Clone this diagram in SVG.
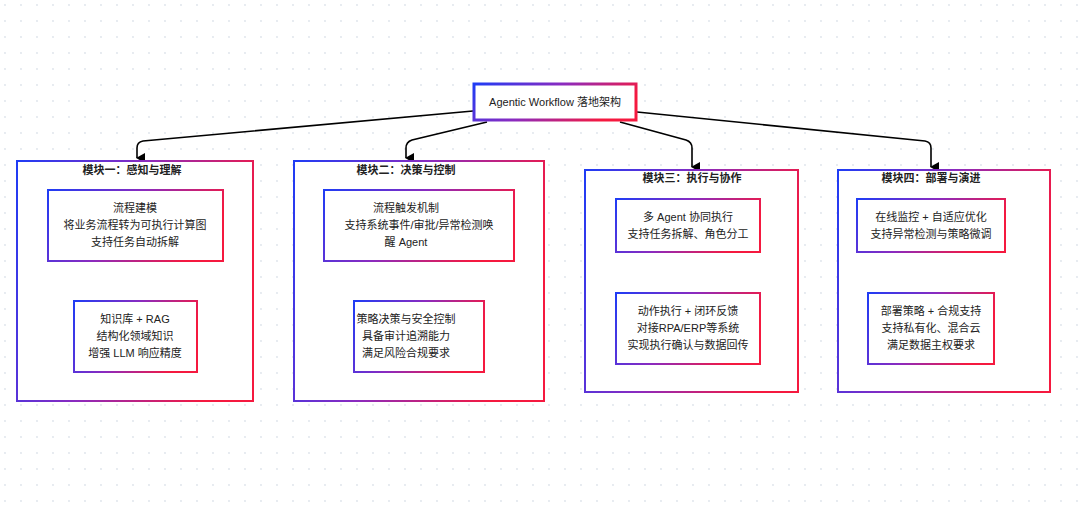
<svg xmlns="http://www.w3.org/2000/svg" width="1080" height="505" viewBox="0 0 1080 505">
<defs>
<pattern id="grid" width="16" height="16" patternUnits="userSpaceOnUse" x="4" y="4">
<circle cx="1" cy="1" r="0.9" fill="#dde3ea"/>
</pattern>
<linearGradient id="g" x1="0" y1="0" x2="1" y2="0.3">
<stop offset="0" stop-color="#1f3cf5"/><stop offset="0.5" stop-color="#8a2bc0"/><stop offset="1" stop-color="#f5193f"/>
</linearGradient>
<marker id="arr" viewBox="0 0 10 10" refX="5" refY="8" markerWidth="10" markerHeight="10" markerUnits="userSpaceOnUse" orient="auto-start-reverse">
<path d="M0,0 L10,0 L5,9 Z" fill="#000"/>
</marker>
</defs>
<style>
.box{fill:#fff;stroke:url(#g);stroke-width:2}
.t{font-family:"Liberation Sans","Noto Sans CJK SC",sans-serif;font-size:11px;fill:#222;text-anchor:middle}
.h{font-weight:bold}
.c{fill:none;stroke:#000;stroke-width:1.6}
</style>
<rect width="1080" height="505" fill="#fff"/>
<rect width="1080" height="505" fill="url(#grid)"/>
<g id="connectors">
<path class="c" d="M473,111 L143,141 Q137,142 137,148 L137,158" marker-end="url(#arr)"/>
<path class="c" d="M487,122 L412,140 Q406,142 406,148 L406,158" marker-end="url(#arr)"/>
<path class="c" d="M620,122 L686,140 Q692,142 692,148 L692,167" marker-end="url(#arr)"/>
<path class="c" d="M637,112 L925,141 Q931,142 931,148 L931,167" marker-end="url(#arr)"/>
</g>
<g id="root">
<rect class="box" x="474" y="84" width="162" height="36" style="stroke-width:3"/>
<text class="t" x="555" y="106">Agentic Workflow 落地架构</text>
</g>
<g id="m1">
<rect class="box" x="17" y="161" width="236" height="240"/>
<text class="t h" x="132" y="174">模块一：感知与理解</text>
</g>
<g id="m1a"><rect class="box" x="48" y="190" width="175" height="71"/>
<text class="t" x="135" y="212">流程建模</text><text class="t" x="135" y="229">将业务流程转为可执行计算图</text><text class="t" x="135" y="246">支持任务自动拆解</text></g>
<g id="m1b"><rect class="box" x="74" y="301" width="123" height="71"/>
<text class="t" x="135" y="323">知识库 + RAG</text><text class="t" x="135" y="340">结构化领域知识</text><text class="t" x="135" y="357">增强 LLM 响应精度</text></g>
<g id="m2">
<rect class="box" x="294" y="161" width="250" height="240"/>
<text class="t h" x="406" y="174">模块二：决策与控制</text>
</g>
<g id="m2a"><rect class="box" x="324" y="190" width="190" height="71"/>
<text class="t" x="406" y="212">流程触发机制</text><text class="t" x="419" y="229">支持系统事件/审批/异常检测唤</text><text class="t" x="406" y="246">醒 Agent</text></g>
<g id="m2b"><rect class="box" x="354" y="301" width="130" height="71"/>
<text class="t" x="406" y="323">策略决策与安全控制</text><text class="t" x="406" y="340">具备审计追溯能力</text><text class="t" x="406" y="357">满足风险合规要求</text></g>
<g id="m3">
<rect class="box" x="585" y="170" width="213" height="222"/>
<text class="t h" x="692" y="182">模块三：执行与协作</text>
</g>
<g id="m3a"><rect class="box" x="616" y="199" width="144" height="53"/>
<text class="t" x="688" y="221">多 Agent 协同执行</text><text class="t" x="688" y="238">支持任务拆解、角色分工</text></g>
<g id="m3b"><rect class="box" x="616" y="293" width="144" height="71"/>
<text class="t" x="688" y="315">动作执行 + 闭环反馈</text><text class="t" x="688" y="332">对接RPA/ERP等系统</text><text class="t" x="688" y="349">实现执行确认与数据回传</text></g>
<g id="m4">
<rect class="box" x="838" y="170" width="212" height="222"/>
<text class="t h" x="931" y="182">模块四：部署与演进</text>
</g>
<g id="m4a"><rect class="box" x="857" y="199" width="148" height="53"/>
<text class="t" x="931" y="221">在线监控 + 自适应优化</text><text class="t" x="931" y="238">支持异常检测与策略微调</text></g>
<g id="m4b"><rect class="box" x="868" y="293" width="126" height="71"/>
<text class="t" x="931" y="315">部署策略 + 合规支持</text><text class="t" x="931" y="332">支持私有化、混合云</text><text class="t" x="931" y="349">满足数据主权要求</text></g>
</svg>
